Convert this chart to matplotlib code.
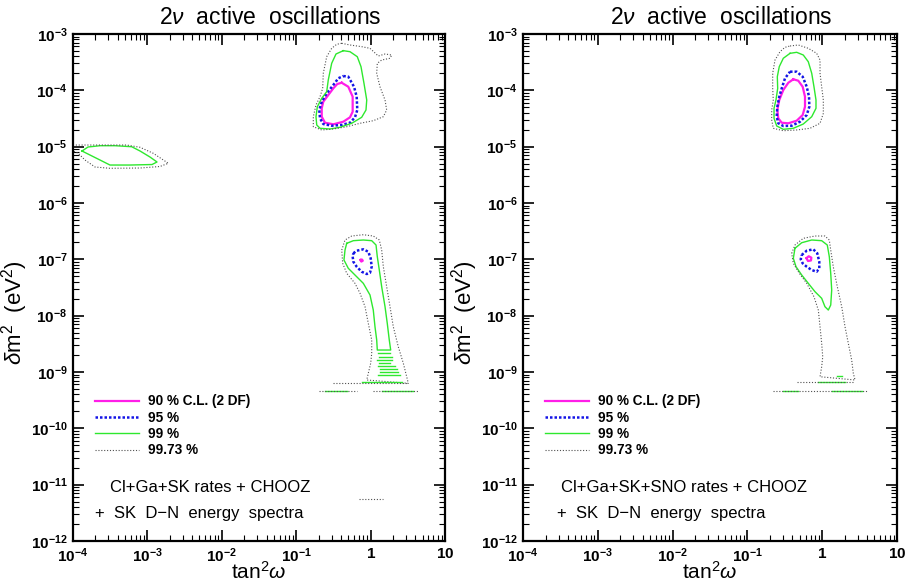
import matplotlib
matplotlib.use('Agg')

import numpy as np
import matplotlib.pyplot as plt
from matplotlib.lines import Line2D
from matplotlib.ticker import FixedLocator, FuncFormatter, NullFormatter

plt.rcParams['font.family'] = ['Liberation Sans', 'DejaVu Sans']
plt.rcParams['mathtext.fontset'] = 'custom'
plt.rcParams['mathtext.rm'] = 'Liberation Sans'
plt.rcParams['mathtext.it'] = 'Liberation Sans:italic'
plt.rcParams['mathtext.bf'] = 'Liberation Sans:bold'

# Contours, as (log10 tan^2 w, log10 dm^2)
# ---- left panel: Cl+Ga+SK rates + CHOOZ
left_lma_90 = [(-0.389, -3.865), (-0.300, -3.936), (-0.241, -4.113), (-0.241, -4.379), (-0.277, -4.479),
               (-0.367, -4.557), (-0.501, -4.603), (-0.613, -4.575), (-0.657, -4.468), (-0.657, -4.319),
               (-0.636, -4.202), (-0.569, -4.083), (-0.501, -3.964), (-0.448, -3.888)]
left_lma_95 = [(-0.367, -3.746), (-0.300, -3.758), (-0.223, -3.936), (-0.187, -4.113), (-0.179, -4.349),
               (-0.210, -4.479), (-0.277, -4.575), (-0.389, -4.615), (-0.523, -4.628), (-0.636, -4.598),
               (-0.680, -4.497), (-0.690, -4.349), (-0.657, -4.202), (-0.590, -4.053), (-0.501, -3.905),
               (-0.434, -3.786)]
left_lma_99 = [(-0.367, -3.296), (-0.277, -3.314), (-0.179, -3.403), (-0.129, -3.580), (-0.089, -3.875),
               (-0.052, -4.172), (-0.062, -4.349), (-0.120, -4.479), (-0.254, -4.585), (-0.411, -4.656),
               (-0.546, -4.686), (-0.680, -4.674), (-0.724, -4.615), (-0.734, -4.468), (-0.716, -4.291),
               (-0.657, -4.141), (-0.590, -4.024), (-0.569, -3.817), (-0.523, -3.520), (-0.465, -3.355)]
left_lma_9973 = [(-0.389, -3.165), (-0.277, -3.195), (-0.120, -3.225), (-0.008, -3.254), (0.103, -3.391),
                 (0.194, -3.355), (0.284, -3.373), (0.261, -3.431), (0.149, -3.462), (0.090, -3.520),
                 (0.082, -3.698), (0.126, -3.936), (0.194, -4.172), (0.216, -4.349), (0.171, -4.468),
                 (0.036, -4.539), (-0.142, -4.585), (-0.321, -4.646), (-0.501, -4.686), (-0.657, -4.704),
                 (-0.770, -4.646), (-0.770, -4.468), (-0.734, -4.260), (-0.680, -4.113), (-0.644, -3.964),
                 (-0.636, -3.698), (-0.590, -3.403), (-0.523, -3.254), (-0.456, -3.183)]
left_sma_99 = [(-3.879, -5.077), (-3.798, -5.006), (-3.637, -4.983), (-3.435, -4.983), (-3.211, -5.001),
               (-3.099, -5.077), (-2.965, -5.184), (-2.871, -5.272), (-2.938, -5.317), (-3.234, -5.326),
               (-3.503, -5.326), (-3.637, -5.237), (-3.772, -5.148)]
left_sma_9973 = [(-4.04, -4.971), (-3.637, -4.971), (-3.278, -4.971), (-3.099, -5.011), (-2.921, -5.118),
                 (-2.719, -5.295), (-2.831, -5.352), (-3.099, -5.379), (-3.503, -5.384), (-3.704, -5.361),
                 (-3.839, -5.237), (-3.933, -5.113), (-4.04, -5.059)]
left_low_90 = [(-0.135, -7.010), (-0.115, -7.005), (-0.105, -7.025), (-0.125, -7.040)]
left_low_95 = [(-0.232, -6.893), (-0.187, -6.847), (-0.098, -6.822), (-0.031, -6.865), (0.001, -6.982),
               (0.015, -7.131), (-0.008, -7.238), (-0.052, -7.261), (-0.120, -7.220), (-0.187, -7.131),
               (-0.232, -7.042), (-0.241, -6.953)]
left_low_99 = [(-0.321, -6.716), (-0.232, -6.669), (-0.098, -6.657), (0.015, -6.669), (0.073, -6.746),
               (0.090, -6.953), (0.117, -7.190), (0.149, -7.486), (0.194, -7.841), (0.224, -8.136),
               (0.251, -8.432), (0.270, -8.610), (0.090, -8.610), (0.082, -8.432), (0.059, -8.196),
               (0.036, -7.900), (-0.008, -7.633), (-0.098, -7.426), (-0.210, -7.278), (-0.300, -7.159),
               (-0.358, -7.012), (-0.344, -6.835)]
left_low_9973 = [(-0.388, -6.835), (-0.344, -6.657), (-0.254, -6.586), (-0.098, -6.563), (0.036, -6.586),
                 (0.117, -6.657), (0.149, -6.835), (0.171, -7.131), (0.216, -7.486), (0.261, -7.841),
                 (0.305, -8.196), (0.372, -8.551), (0.440, -8.846), (0.485, -9.084), (0.507, -9.201),
                 (-0.052, -9.142), (-0.031, -9.023), (0.001, -8.846), (0.015, -8.668), (0.015, -8.432),
                 (-0.031, -8.136), (-0.075, -7.841), (-0.142, -7.603), (-0.210, -7.426), (-0.321, -7.248),
                 (-0.375, -7.071)]
# flat fragments near the bottom of the LOW region: (log10 dm^2, log10 tan^2 from, to)
left_bits_99 = [(-8.668, 0.103, 0.261), (-8.729, 0.117, 0.284), (-8.787, 0.090, 0.284),
                (-8.835, 0.117, 0.261), (-8.894, 0.103, 0.328), (-8.952, 0.126, 0.351),
                (-8.995, 0.126, 0.372), (-9.054, 0.103, 0.395), (-9.181, -0.120, 0.418),
                (-9.338, -0.613, -0.321), (-9.338, 0.149, 0.574)]
left_bits_9973 = [(-9.190, -0.505, 0.503), (-9.338, -0.694, -0.187), (-9.338, 0.032, 0.637),
                  (-11.260, -0.152, 0.171)]

# ---- right panel: Cl+Ga+SK+SNO rates + CHOOZ
right_lma_90 = [(-0.386, -3.804), (-0.320, -3.829), (-0.261, -3.936), (-0.230, -4.113), (-0.230, -4.291),
                (-0.261, -4.438), (-0.341, -4.539), (-0.453, -4.585), (-0.541, -4.575), (-0.587, -4.497),
                (-0.600, -4.349), (-0.574, -4.172), (-0.520, -3.994), (-0.453, -3.865)]
right_lma_95 = [(-0.430, -3.669), (-0.341, -3.669), (-0.261, -3.758), (-0.207, -3.936), (-0.176, -4.113),
                (-0.172, -4.291), (-0.207, -4.438), (-0.297, -4.557), (-0.408, -4.628), (-0.520, -4.633),
                (-0.587, -4.585), (-0.608, -4.468), (-0.600, -4.291), (-0.574, -4.113), (-0.541, -3.964),
                (-0.497, -3.786)]
right_lma_99 = [(-0.430, -3.343), (-0.341, -3.325), (-0.253, -3.373), (-0.186, -3.492), (-0.140, -3.698),
                (-0.110, -3.936), (-0.083, -4.172), (-0.083, -4.319), (-0.140, -4.468), (-0.253, -4.598),
                (-0.386, -4.674), (-0.520, -4.692), (-0.608, -4.633), (-0.644, -4.497), (-0.644, -4.319),
                (-0.618, -4.172), (-0.595, -3.964), (-0.600, -3.758), (-0.574, -3.580), (-0.520, -3.431)]
right_lma_9973 = [(-0.430, -3.213), (-0.320, -3.195), (-0.186, -3.254), (-0.074, -3.343), (-0.029, -3.462),
                  (-0.029, -3.698), (-0.007, -3.936), (0.015, -4.172), (0.015, -4.408), (-0.029, -4.585),
                  (-0.163, -4.674), (-0.341, -4.704), (-0.520, -4.717), (-0.654, -4.674), (-0.675, -4.527),
                  (-0.675, -4.349), (-0.654, -4.172), (-0.662, -3.964), (-0.662, -3.698), (-0.631, -3.462),
                  (-0.564, -3.314), (-0.497, -3.236)]
right_low_90 = [(-0.210, -6.980), (-0.180, -6.945), (-0.145, -6.970), (-0.150, -7.020), (-0.190, -7.030)]
right_low_95 = [(-0.274, -6.923), (-0.207, -6.847), (-0.119, -6.822), (-0.066, -6.893), (-0.039, -7.042),
                (-0.039, -7.159), (-0.074, -7.220), (-0.140, -7.190), (-0.207, -7.131), (-0.261, -7.071),
                (-0.287, -7.000)]
right_low_99 = [(-0.364, -6.804), (-0.274, -6.705), (-0.140, -6.657), (-0.007, -6.669), (0.068, -6.746),
                (0.095, -6.953), (0.114, -7.248), (0.127, -7.545), (0.114, -7.811), (0.082, -7.900),
                (0.037, -7.841), (-0.007, -7.692), (-0.096, -7.575), (-0.186, -7.426), (-0.274, -7.278),
                (-0.350, -7.131), (-0.386, -6.982)]
right_low_9973 = [(-0.408, -6.893), (-0.364, -6.746), (-0.253, -6.627), (-0.096, -6.586), (0.037, -6.586),
                  (0.095, -6.657), (0.114, -6.835), (0.148, -7.131), (0.202, -7.486), (0.261, -7.841),
                  (0.305, -8.196), (0.349, -8.491), (0.394, -8.787), (0.416, -9.023), (0.439, -9.142),
                  (-0.029, -9.084), (-0.007, -8.906), (0.007, -8.729), (-0.007, -8.491), (-0.029, -8.196),
                  (-0.052, -7.900), (-0.110, -7.664), (-0.207, -7.426), (-0.306, -7.248), (-0.386, -7.071)]
right_bits_99 = [(-8.539, 0.165, 0.177), (-9.066, 0.194, 0.261), (-9.183, -0.052, 0.305),
                 (-9.332, -0.520, -0.320), (-9.332, 0.127, 0.528)]
right_bits_9973 = [(-9.183, -0.341, 0.416), (-9.332, -0.654, 0.595)]

levels = ['90', '95', '99', '9973']
level_labels = ['90 % C.L. (2 DF)', '95 %', '99 %', '99.73 %']

# axis decades
x_decades = list(range(-4, 2))
y_decades = list(range(-12, -2))

styles = {
    '90': dict(color='#ff1ee8', lw=1.6, ls='-'),
    '95': dict(color='#1414e6', lw=1.8, ls=(0, (1.0, 0.8))),
    '99': dict(color='#2ee82e', lw=1.0, ls='-'),
    '9973': dict(color='#505050', lw=0.8, ls=(0, (1.0, 1.6))),
}


def draw_loop(ax, pts, lev):
    """ Draw one closed contour from log10 points. """
    arr = np.array(pts + [pts[0]])
    ax.plot(10 ** arr[:, 0], 10 ** arr[:, 1], **styles[lev])


def draw_bits(ax, bits, lev):
    """ Draw short flat contour fragments. """
    for y, x0, x1 in bits:
        ax.plot([10 ** x0, 10 ** x1], [10 ** y, 10 ** y], **styles[lev])


def tick_fmt(v, pos):
    e = int(round(np.log10(v)))
    if e == 0:
        return r'$\mathbf{1}$'
    if e == 1:
        return r'$\mathbf{10}$'
    return r'$\mathbf{10^{%d}}$' % e


def log_ticks(decades):
    major = [10.0 ** e for e in decades]
    minor = [m * 10.0 ** e for e in decades[:-1] for m in range(2, 10)]
    return major, minor


def setup_axes(ax, line1, line2, x1, x2):
    ax.set_xscale('log')
    ax.set_yscale('log')
    ax.set_xlim(10.0 ** x_decades[0], 10.0 ** x_decades[-1])
    ax.set_ylim(10.0 ** y_decades[0], 10.0 ** y_decades[-1])
    for axis, dec in ((ax.xaxis, x_decades), (ax.yaxis, y_decades)):
        major, minor = log_ticks(dec)
        axis.set_major_locator(FixedLocator(major))
        axis.set_minor_locator(FixedLocator(minor))
        axis.set_major_formatter(FuncFormatter(tick_fmt))
        axis.set_minor_formatter(NullFormatter())
    ax.tick_params(which='both', direction='in', top=True, right=True)
    ax.tick_params(which='major', length=8, width=1.2, labelsize=11, pad=4)
    ax.tick_params(which='minor', length=4, width=0.8)
    for s in ax.spines.values():
        s.set_linewidth(1.6)

    ax.set_title(r'$2\nu$  active  oscillations', fontsize=16.5, pad=7, x=0.53)
    ax.set_xlabel(r'tan$^2\omega$', fontsize=15, labelpad=-3)
    ax.set_ylabel(r'$\delta$m$^2$  (eV$^2$)', fontsize=16)
    ax.yaxis.set_label_coords(-0.115, 0.45)

    handles = [Line2D([], [], **styles[l]) for l in levels]
    ax.legend(handles, level_labels, loc='upper left', bbox_to_anchor=(0.059, 0.289),
              frameon=False, borderpad=0, borderaxespad=0, handlelength=3.2,
              handletextpad=0.7, labelspacing=0.17, prop={'weight': 'bold', 'size': 9.8})

    ax.text(x1, 0.1065, line1, transform=ax.transAxes, fontsize=12, va='center')
    ax.text(x2, 0.055, line2, transform=ax.transAxes, fontsize=12, va='center')


fig = plt.figure(figsize=(9.12, 5.84), dpi=100)
ax1 = fig.add_axes([73 / 912, 43 / 584, 372 / 912, 507 / 584])
ax2 = fig.add_axes([523 / 912, 43 / 584, 374 / 912, 507 / 584])

for lev, pts in zip(levels, [left_lma_90, left_lma_95, left_lma_99, left_lma_9973]):
    draw_loop(ax1, pts, lev)
draw_loop(ax1, left_sma_99, '99')
draw_loop(ax1, left_sma_9973, '9973')
for lev, pts in zip(levels, [left_low_90, left_low_95, left_low_99, left_low_9973]):
    draw_loop(ax1, pts, lev)
draw_bits(ax1, left_bits_99, '99')
draw_bits(ax1, left_bits_9973, '9973')

for lev, pts in zip(levels, [right_lma_90, right_lma_95, right_lma_99, right_lma_9973]):
    draw_loop(ax2, pts, lev)
for lev, pts in zip(levels, [right_low_90, right_low_95, right_low_99, right_low_9973]):
    draw_loop(ax2, pts, lev)
draw_bits(ax2, right_bits_99, '99')
draw_bits(ax2, right_bits_9973, '9973')

setup_axes(ax1, 'Cl+Ga+SK rates + CHOOZ', '+  SK  D\u2212N  energy  spectra', 0.0995, 0.059)
setup_axes(ax2, 'Cl+Ga+SK+SNO rates + CHOOZ', '+  SK  D\u2212N  energy  spectra', 0.1016, 0.091)

plt.savefig('out.png', dpi=100)
